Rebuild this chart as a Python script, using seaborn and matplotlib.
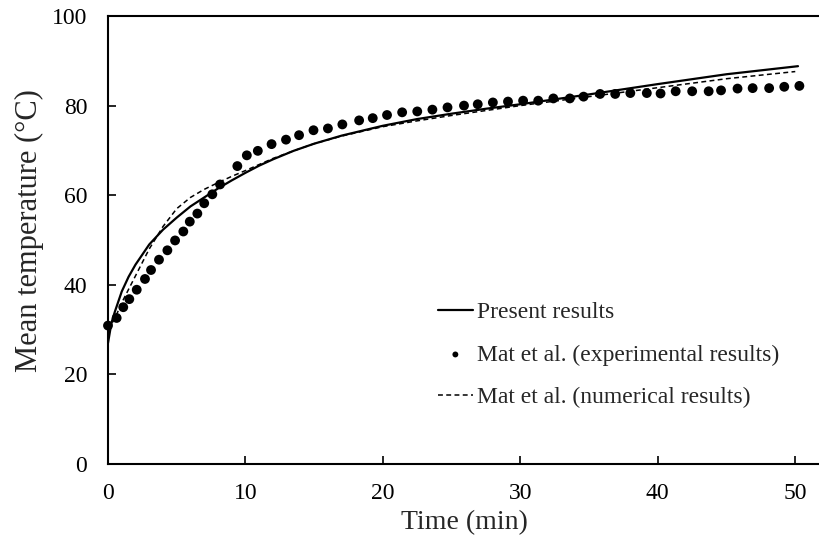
import matplotlib
matplotlib.use("Agg")
import matplotlib.pyplot as plt
import seaborn as sns
import pandas as pd

# Present results (solid line)
present_t = [0, 0.25, 0.5, 1, 1.5, 2, 3, 4, 5, 6, 7, 8, 9, 10, 11, 12, 13.5, 15, 17, 20, 22.5, 25, 27.5,
             30, 35, 40, 45, 50.2]
present_y = [27, 31.5, 34, 38.5, 41.8, 44.5, 49, 52.3, 55, 57.5, 59.5, 61.5, 63.3, 65, 66.6, 68, 69.9,
             71.5, 73.3, 75.5, 77, 78.2, 79.3, 80.3, 82.5, 84.8, 87, 88.8]

# Mat et al. numerical results (dashed line)
num_t = [0, 0.5, 1, 2, 3, 4, 5, 6, 7, 8, 9, 10, 12, 13.5, 15, 17, 20, 22.5, 25, 27.5, 30, 35, 40, 45, 50]
num_y = [30, 32.5, 36, 42, 48, 53, 57, 59.5, 61.3, 62.8, 64.2, 65.5, 68.2, 69.9, 71.5, 73.2, 75.3, 76.6,
         77.8, 78.9, 80, 82, 84, 86, 87.6]

# Mat et al. experimental results (dots)
exp_t = [0.0, 0.63, 1.11, 1.55, 2.09, 2.69, 3.13, 3.71, 4.32, 4.88, 5.48, 5.95, 6.5, 7.0, 7.59, 8.15,
         9.41, 10.1, 10.9, 11.9, 12.95, 13.9, 14.95, 16.0, 17.05, 18.27, 19.26, 20.3, 21.4, 22.5, 23.6,
         24.7, 25.9, 26.9, 28.0, 29.1, 30.2, 31.3, 32.4, 33.6, 34.6, 35.8, 36.9, 38.0, 39.2, 40.2, 41.3,
         42.5, 43.7, 44.6, 45.8, 46.9, 48.1, 49.2, 50.3]
exp_y = [30.9, 32.6, 35.0, 36.8, 38.9, 41.3, 43.3, 45.6, 47.7, 49.9, 51.9, 54.1, 55.9, 58.2, 60.2, 62.4,
         66.5, 68.9, 69.9, 71.4, 72.4, 73.4, 74.5, 74.9, 75.8, 76.7, 77.2, 77.9, 78.5, 78.7, 79.1,
         79.6, 80.0, 80.3, 80.7, 80.9, 81.1, 81.1, 81.6, 81.6, 82.0, 82.6, 82.6, 82.8, 82.8, 82.7, 83.2,
         83.2, 83.2, 83.4, 83.8, 83.9, 83.9, 84.2, 84.4]

x_ticks = [0, 10, 20, 30, 40, 50]
y_ticks = [0, 20, 40, 60, 80, 100]

labels = ["Present results", "Mat et al. (experimental results)", "Mat et al. (numerical results)"]

sns.set_style("ticks")
plt.rcParams["font.family"] = ["Liberation Serif", "DejaVu Serif"]

fig = plt.figure(figsize=(8.2, 5.4), dpi=100)
ax = fig.add_axes([108 / 820, 1 - 464 / 540, 1 - 108 / 820, (464 - 16) / 540])

df_p = pd.DataFrame({"t": present_t, "y": present_y})
df_n = pd.DataFrame({"t": num_t, "y": num_y})
df_e = pd.DataFrame({"t": exp_t, "y": exp_y})

sns.lineplot(data=df_p, x="t", y="y", ax=ax, color="black", lw=1.6, label=labels[0], zorder=3)
sns.scatterplot(data=df_e, x="t", y="y", ax=ax, color="black", s=50, edgecolor="none",
                label=labels[1], zorder=4, clip_on=False)
sns.lineplot(data=df_n, x="t", y="y", ax=ax, color="black", lw=1.1, dashes=False, label=labels[2],
             zorder=3)
ax.lines[-1].set_dashes([3.2, 2.2])

ax.set_xlim(0, 51.8)
ax.set_ylim(0, 100)
ax.set_xticks(x_ticks)
ax.set_yticks(y_ticks)
ax.tick_params(direction="in", length=6, width=1.2, labelsize=17, colors="black")
ax.tick_params(axis="x", pad=14)
ax.tick_params(axis="y", pad=15)
for side in ["left", "bottom", "top"]:
    ax.spines[side].set_linewidth(1.5)
    ax.spines[side].set_color("black")
ax.spines["right"].set_visible(False)

ax.set_xlabel("Time (min)", fontsize=20, labelpad=4)
ax.set_ylabel("Mean temperature (°C)", fontsize=22)
ax.yaxis.set_label_coords(-0.09, 0.52)

h, l = ax.get_legend_handles_labels()
leg = ax.legend(h, l, loc="upper left", bbox_to_anchor=(0.463, 0.362), frameon=False,
                fontsize=17, handlelength=1.5, handletextpad=0.15, labelspacing=0.88,
                borderpad=0, borderaxespad=0, markerscale=0.6)

fig.savefig("out.png", dpi=100)
